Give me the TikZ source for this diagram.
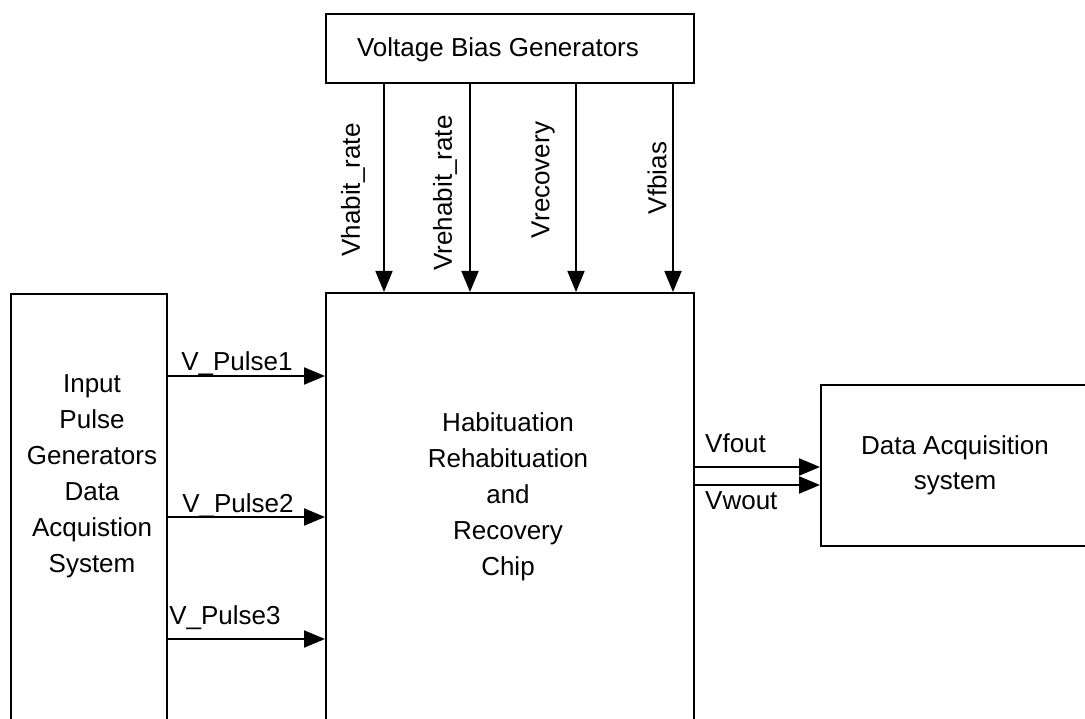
\documentclass[tikz,border=0pt]{standalone}
\usepackage{fontspec}
\setmainfont{Liberation Sans}
\usetikzlibrary{arrows.meta}
\begin{document}
\begin{tikzpicture}[x=1pt,y=-1pt,
  box/.style={draw, line width=2.2pt, inner sep=0pt},
  txt/.style={font=\fontsize{26}{36}\selectfont, inner sep=0pt, align=center},
  sig/.style={-{Triangle[length=21pt,width=17pt]}, line width=2.2pt},
  vsig/.style={-{Triangle[length=21pt,width=17pt]}, line width=1.8pt}]
\useasboundingbox (0,0) rectangle (1085,719);
% boxes
\node[box, anchor=north west, minimum width=368pt, minimum height=69pt] (vbg) at (325,13) {};
\node[box, anchor=north west, minimum width=368pt, minimum height=448pt] (chip) at (325,292) {};
\node[box, anchor=north west, minimum width=156pt, minimum height=447pt] (inp) at (10,293) {};
\node[box, anchor=north west, minimum width=275pt, minimum height=161pt] (das) at (820,384) {};
% box texts
\node[txt, anchor=base] (vbgt) at (498,57) {Voltage Bias Generators};
\node[txt] (inpt) at (92,476) {Input\\Pulse\\Generators\\Data\\Acquistion\\System};
\node[txt] (chipt) at (508,497) {Habituation\\Rehabituation\\and\\Recovery\\Chip};
\node[txt, font=\fontsize{26}{35}\selectfont] (dast) at (955,465) {Data Acquisition\\system};
% vertical bias signals
\draw[vsig] (vbg.south -| 384,0) -- (chip.north -| 384,0);
\draw[vsig] (vbg.south -| 470,0) -- (chip.north -| 470,0);
\draw[vsig] (vbg.south -| 576,0) -- (chip.north -| 576,0);
\draw[vsig] (vbg.south -| 673,0) -- (chip.north -| 673,0);
\node[txt, rotate=90] (l1) at (353,190) {Vhabit\_rate};
\node[txt, rotate=90] (l2) at (445,193) {Vrehabit\_rate};
\node[txt, rotate=90] (l3) at (543,180) {Vrecovery};
\node[txt, rotate=90] (l4) at (657,178) {Vfbias};
% pulse inputs
\draw[sig] (inp.east |- 0,376) -- (chip.west |- 0,376);
\draw[sig] (inp.east |- 0,517) -- (chip.west |- 0,517);
\draw[sig] (inp.east |- 0,639) -- (chip.west |- 0,639);
\node[txt, anchor=base] (p1) at (237,371) {V\_Pulse1};
\node[txt, anchor=base] (p2) at (238,512) {V\_Pulse2};
\node[txt, anchor=base] (p3) at (225,624) {V\_Pulse3};
% outputs
\draw[sig] (chip.east |- 0,467) -- (das.west |- 0,467);
\draw[sig] (chip.east |- 0,485) -- (das.west |- 0,485);
\node[txt, anchor=base west] (o1) at (705,452) {Vfout};
\node[txt, anchor=base west] (o2) at (705,509) {Vwout};
\end{tikzpicture}
\end{document}
